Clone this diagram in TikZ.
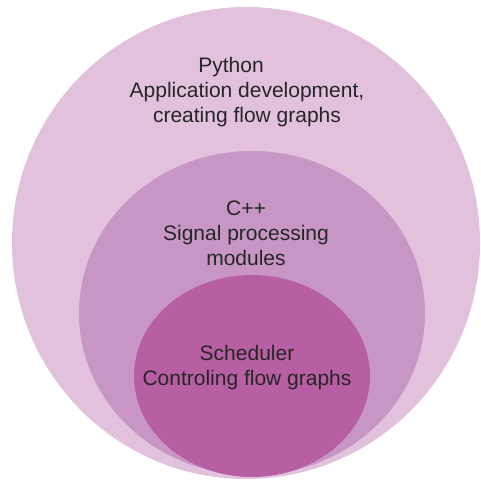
\documentclass[tikz,border=0pt]{standalone}
\usepackage{fontspec}
\setmainfont{Liberation Sans}
\usepackage{tikz}
\usetikzlibrary{positioning}

\definecolor{pythonfill}{RGB}{225,193,220}
\definecolor{cppfill}{RGB}{199,150,196}
\definecolor{schedfill}{RGB}{184,94,162}

\begin{document}
\begin{tikzpicture}[x=1pt, y=1pt,
    layertext/.style={align=center, inner sep=0pt, text=black!85,
      font=\fontsize{21}{25}\selectfont}]
          \useasboundingbox (0,0) rectangle (481,479);
          % Layers
          \fill[pythonfill] (246,236) ellipse [x radius=234, y radius=236];
          \fill[cppfill] (252,166) ellipse [x radius=173, y radius=162];
          \fill[schedfill] (252,103) ellipse [x radius=118, y radius=101];
          % Labels
          \node[layertext] (python) at (247,387)
            {Python\hspace*{32pt}\\Application development,\\creating flow graphs};
          \node[layertext] (cpp) at (246,246)
            {C++\\Signal processing\\modules};
          \node[layertext] (sched) at (247,111)
            {Scheduler\\Controling flow graphs};
        \end{tikzpicture}
\end{document}
